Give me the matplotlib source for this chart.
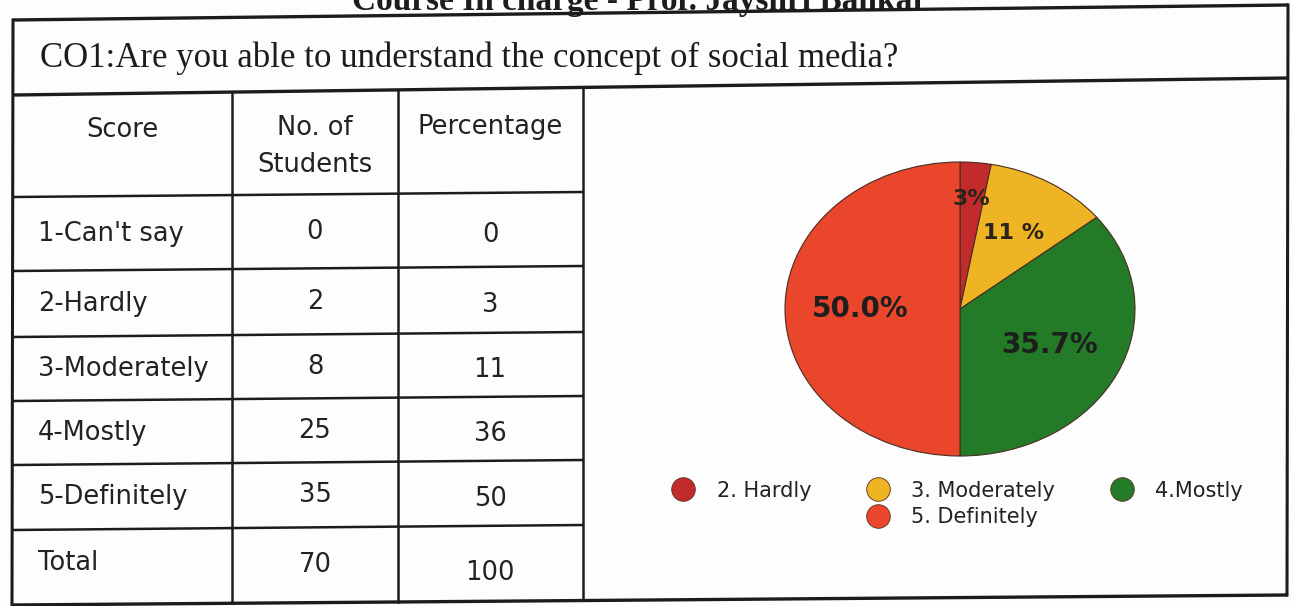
import matplotlib.pyplot as plt
from matplotlib.lines import Line2D
import numpy as np

# table data
scores = ["1-Can't say", "2-Hardly", "3-Moderately", "4-Mostly", "5-Definitely"]
students = [0, 2, 8, 25, 35]
percentages = [0, 3, 11, 36, 50]
total_students = 70
total_pct = 100

# pie data
pie_labels = ["2. Hardly", "3. Moderately", "4.Mostly", "5. Definitely"]
pie_values = [2, 8, 25, 35]
pie_texts = ["3%", "11 %", "35.7%", "50.0%"]
pie_colors = ["#c22a2c", "#efb423", "#237a27", "#e9462b"]

W, H = 1293, 606
fig = plt.figure(figsize=(W / 100, H / 100), dpi=100, facecolor="#fdfdfd")
ax = fig.add_axes([0, 0, 1, 1])
ax.set_xlim(0, W)
ax.set_ylim(H, 0)
ax.axis("off")

ink = "#1c1c1c"


def hline(x0, x1, y0, y1, lw=2.0):
    ax.plot([x0, x1], [y0, y1], color=ink, lw=lw, solid_capstyle="butt")


# outer frame (scan is slightly skewed)
hline(13, 1288, 20, 5, 2.4)
hline(13, 1288, 95, 78, 2.4)
hline(13, 1288, 605, 595, 2.4)
ax.plot([13, 12], [20, 606], color=ink, lw=2.2)
ax.plot([1288, 1287], [5, 595], color=ink, lw=2.2)

# table grid
row_lines = [197, 271, 337, 401, 465, 530]
for y in row_lines:
    hline(13, 583, y, y - 5, 1.8)
for x in [232, 398, 583]:
    ytop = 95 - 0.0134 * (x - 13)
    ax.plot([x, x], [ytop, 605 - 0.008 * (x - 13)], color=ink, lw=1.8)

# heading cut at the top of the page (as in the scan)
ax.text(640, 10, "Course In charge - Prof. Jayshri Bankar", ha="center", va="baseline",
        fontsize=24, fontweight="bold", family="Liberation Serif", color=ink)

ax.text(40, 58, "CO1:Are you able to understand the concept of social media?",
        ha="left", va="center", fontsize=25, family="Liberation Serif", color=ink)

tf = dict(fontsize=18.5, family="DejaVu Sans", color="#222222")
col_x = [122, 315, 490]
ax.text(col_x[0], 130, "Score", ha="center", va="center", **tf)
ax.text(col_x[1], 128, "No. of", ha="center", va="center", **tf)
ax.text(col_x[1], 165, "Students", ha="center", va="center", **tf)
ax.text(col_x[2], 127, "Percentage", ha="center", va="center", **tf)

edges = row_lines + [605]
for i, (s, n, p) in enumerate(zip(scores, students, percentages)):
    yc = (edges[i] + edges[i + 1]) / 2
    ax.text(38, yc, s, ha="left", va="center", **tf)
    ax.text(col_x[1], yc - 2, str(n), ha="center", va="center", **tf)
    ax.text(col_x[2], yc + 1, str(p), ha="center", va="center", **tf)
yc = (edges[-2] + edges[-1]) / 2
ax.text(38, yc - 5, "Total", ha="left", va="center", **tf)
ax.text(col_x[1], yc - 3, str(total_students), ha="center", va="center", **tf)
ax.text(col_x[2], yc + 5, str(total_pct), ha="center", va="center", **tf)

# pie chart (elliptical, as in the scan)
cx, cy, rx, ry = 960, 309, 175, 147
pax = fig.add_axes([(cx - rx) / W, (H - cy - ry) / H, 2 * rx / W, 2 * ry / H])
wedges, _ = pax.pie(pie_values, colors=pie_colors, startangle=90, counterclock=False,
                    wedgeprops=dict(edgecolor="#4a2c24", linewidth=0.8))
pax.set_aspect("auto")
pax.set_xlim(-1, 1)
pax.set_ylim(-1, 1)
pax.axis("off")

dists = [0.75, 0.6, 0.57, 0.57]
for w, txt, d, i in zip(wedges, pie_texts, dists, range(4)):
    mid = np.deg2rad((w.theta1 + w.theta2) / 2)
    if i < 2:
        pax.text(d * np.cos(mid), d * np.sin(mid), txt, ha="center", va="center",
                 fontsize=16, fontweight="bold", family="DejaVu Sans Condensed", color="#2b2418")
    else:
        pax.text(d * np.cos(mid), d * np.sin(mid), txt, ha="center", va="center",
                 fontsize=20, fontweight="bold", family="DejaVu Sans", color="#1e1e1e")

# legend: row 1 = Hardly, Moderately, Mostly; row 2 = Definitely under Moderately
blank = Line2D([], [], linestyle="none", marker=None)
handles = [Line2D([], [], linestyle="none", marker="o", markersize=17,
                  markerfacecolor=c, markeredgecolor="#5a3020", markeredgewidth=0.6)
           for c in pie_colors]
leg = fig.legend([handles[0], blank, handles[1], handles[3], handles[2], blank],
                 [pie_labels[0], "", pie_labels[1], pie_labels[3], pie_labels[2], ""],
                 ncol=3, loc="upper left", bbox_to_anchor=(652 / W, 1 - 462 / H),
                 frameon=False, prop=dict(family="DejaVu Sans", size=15),
                 handletextpad=1.0, columnspacing=2.6, labelspacing=0.3, handlelength=1.2)
for t in leg.get_texts():
    t.set_color("#222222")

fig.savefig("out.png", dpi=100, facecolor=fig.get_facecolor())
